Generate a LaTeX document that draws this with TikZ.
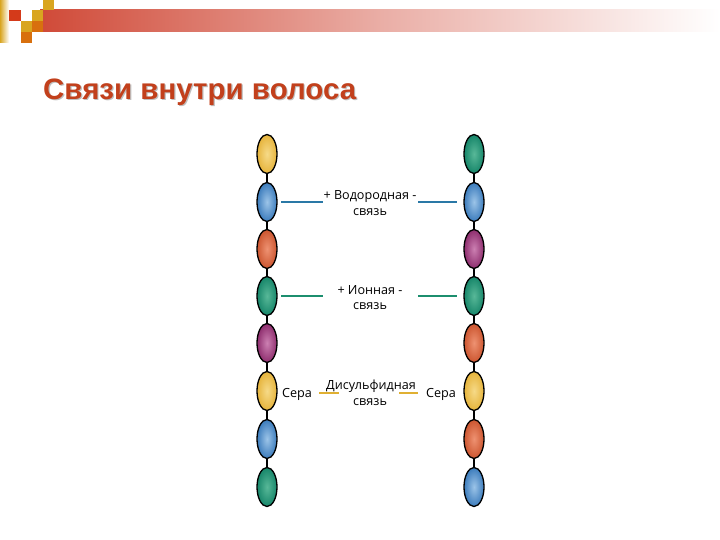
\documentclass[tikz,border=0pt]{standalone}
\usepackage{fontspec}
\setmainfont{Open Sans}
\newfontfamily\titlefont{Liberation Sans}
\usetikzlibrary{shapes.geometric}
\definecolor{titlered}{HTML}{C2401C}
\definecolor{barred}{HTML}{D04A38}
\definecolor{sqgold}{HTML}{D9A520}
\definecolor{sqorange}{HTML}{D8700E}
\definecolor{sqred}{HTML}{D43A1A}
\definecolor{yo}{HTML}{E6B43C}\definecolor{yi}{HTML}{F6DA88}
\definecolor{bo}{HTML}{3C7CBC}\definecolor{bi}{HTML}{9CC4E8}
\definecolor{oo}{HTML}{CC5630}\definecolor{oi}{HTML}{EE9272}
\definecolor{go}{HTML}{17866A}\definecolor{gi}{HTML}{58B898}
\definecolor{po}{HTML}{8E2E6E}\definecolor{pi}{HTML}{CC80B2}
\definecolor{hbond}{HTML}{2A78A6}
\definecolor{ibond}{HTML}{1C8E6E}
\definecolor{sbond}{HTML}{E0B032}
\tikzset{
  bead/.style={ellipse, draw=black, line width=1.3pt, minimum width=20pt, minimum height=39pt, inner sep=0pt},
  Y/.style={bead, inner color=yi, outer color=yo},
  B/.style={bead, inner color=bi, outer color=bo},
  O/.style={bead, inner color=oi, outer color=oo},
  G/.style={bead, inner color=gi, outer color=go},
  P/.style={bead, inner color=pi, outer color=po},
  chain/.style={line width=1.8pt, black},
  lbl/.style={font=\fontsize{12.6}{14}\selectfont, inner sep=0pt, text=black, anchor=base},
  bondline/.style={line width=2pt}
}
\begin{document}
\begin{tikzpicture}[x=1pt,y=-1pt]
\useasboundingbox (0,0) rectangle (720,540);
\fill[white] (0,0) rectangle (720,540);
% top bar
\shade[left color=barred, right color=white, middle color=barred!45] (40,10) rectangle (720,32);
\shade[left color=sqgold, right color=white] (0,0) rectangle (9,43);
\fill[sqred] (9,10) rectangle (21,21);
\fill[sqgold] (32,10) rectangle (43,21);
\fill[sqgold] (43,0) rectangle (54,10);
\fill[sqgold] (21,21) rectangle (32,32);
\fill[sqorange] (32,21) rectangle (43,32);
\fill[sqorange] (21,32) rectangle (32,43);
% title
\node[anchor=west, inner sep=0pt, text=black!25, font=\titlefont\bfseries\fontsize{29.5}{32}\selectfont] (titleshadow) at (44.2,93.2) {Связи внутри волоса};
\node[anchor=west, inner sep=0pt, text=titlered, font=\titlefont\bfseries\fontsize{29.5}{32}\selectfont] (title) at (43,92) {Связи внутри волоса};
% left chain
\node[Y] (L1) at (267,154) {};
\node[B] (L2) at (267,202) {};
\node[O] (L3) at (267,249) {};
\node[G] (L4) at (267,296) {};
\node[P] (L5) at (267,343) {};
\node[Y] (L6) at (267,391) {};
\node[B] (L7) at (267,439) {};
\node[G] (L8) at (267,487) {};
% right chain
\node[G] (R1) at (474,154) {};
\node[B] (R2) at (474,202) {};
\node[P] (R3) at (474,249) {};
\node[G] (R4) at (474,296) {};
\node[O] (R5) at (474,343) {};
\node[Y] (R6) at (474,391) {};
\node[O] (R7) at (474,439) {};
\node[B] (R8) at (474,487) {};
\foreach \a/\b in {1/2,2/3,3/4,4/5,5/6,6/7,7/8}{
  \draw[chain] (L\a.south) -- (L\b.north);
  \draw[chain] (R\a.south) -- (R\b.north);
}
% hydrogen bond
\coordinate (h1a) at (281,202); \coordinate (h1b) at (323,202);
\coordinate (h2a) at (418,202); \coordinate (h2b) at (457,202);
\draw[bondline, hbond] (h1a) -- (h1b);
\draw[bondline, hbond] (h2a) -- (h2b);
\node[lbl] (ht1) at (370,200) {+ Водородная -};
\node[lbl] (ht2) at (370,215) {связь};
% ionic bond
\coordinate (i1a) at (281,296); \coordinate (i1b) at (323,296);
\coordinate (i2a) at (418,296); \coordinate (i2b) at (457,296);
\draw[bondline, ibond] (i1a) -- (i1b);
\draw[bondline, ibond] (i2a) -- (i2b);
\node[lbl] (it1) at (370,294) {+ Ионная -};
\node[lbl] (it2) at (370,309) {связь};
% disulfide bond
\coordinate (s1a) at (319,393); \coordinate (s1b) at (339,393);
\coordinate (s2a) at (399,393); \coordinate (s2b) at (418,393);
\draw[bondline, sbond] (s1a) -- (s1b);
\draw[bondline, sbond] (s2a) -- (s2b);
\node[lbl] (sl) at (297,397) {Сера};
\node[lbl] (sr) at (441,397) {Сера};
\node[lbl] (st1) at (371,389) {Дисульфидная};
\node[lbl] (st2) at (370,405) {связь};
\end{tikzpicture}
\end{document}
